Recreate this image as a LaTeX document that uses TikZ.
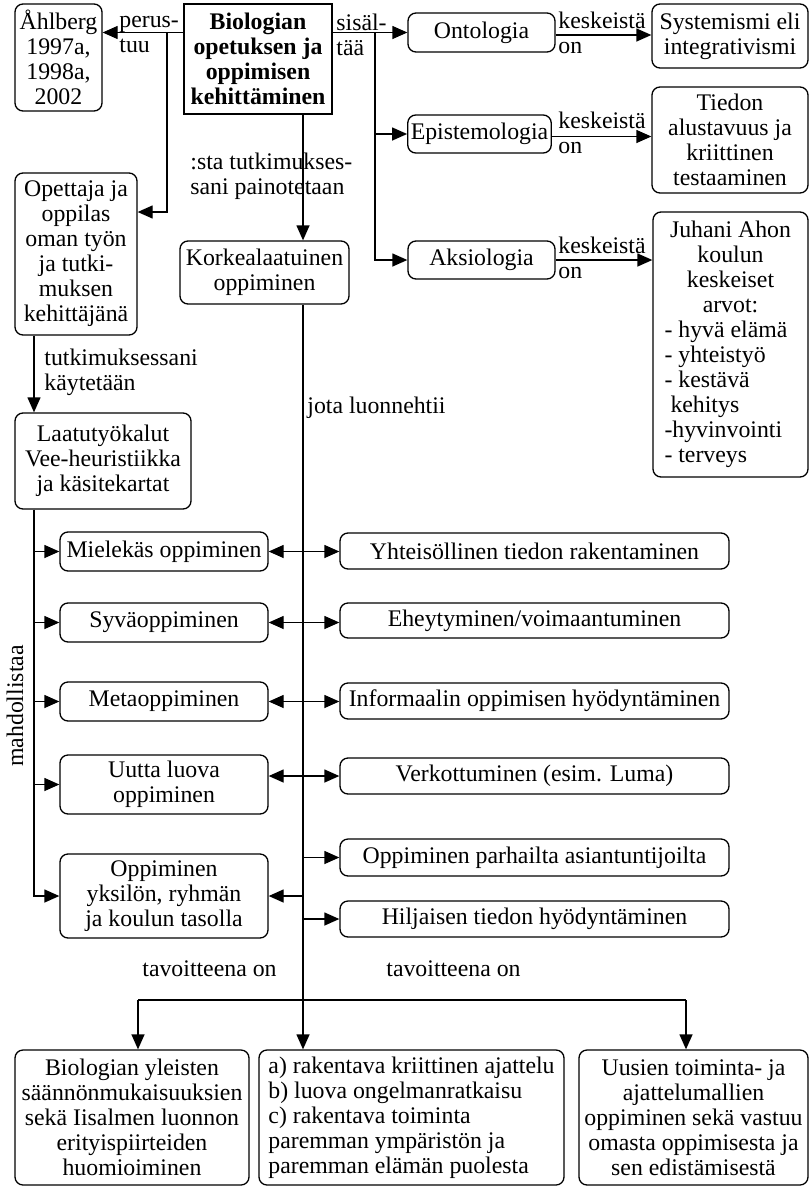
\documentclass[tikz,border=0pt]{standalone}
\usepackage{fontspec}
\setmainfont{Liberation Serif}
\usetikzlibrary{arrows.meta}
\begin{document}
\begin{tikzpicture}[x=0.5pt,y=-0.5pt,
  every node/.style={font=\fontsize{11.9pt}{12.5pt}\selectfont},
  sz/.style 2 args={minimum width=#1*0.5pt, minimum height=#2*0.5pt},
  rbox/.style={draw, rounded corners=4pt, align=center, inner sep=1.5pt, line width=0.65pt},
  sbox/.style={draw, align=center, inner sep=1.5pt, line width=0.65pt},
  lbl/.style={align=left, inner sep=0pt},
  link/.style={line width=0.65pt},
  arr/.style={link, -{Triangle[length=7.5pt,width=6.5pt]}},
  darr/.style={link, {Triangle[length=7.5pt,width=6.5pt]}-{Triangle[length=7.5pt,width=6.5pt]}},
]
\useasboundingbox (0,0) rectangle (809,1189);

% ---- top row ----
\node[rbox, sz={87}{107}] (ahl) at (58.5,57.5) {Åhlberg\\1997a,\\1998a,\\2002};
\node[sbox, sz={148}{110}, font=\fontsize{11.9pt}{12.5pt}\selectfont\bfseries] (main) at (258,59)
  {Biologian\\opetuksen ja\\oppimisen\\kehittäminen};
\node[rbox, sz={147}{39}] (onto) at (481.5,32.5) {Ontologia};
\node[rbox, sz={156}{64}] (syst) at (730,36) {Systemismi eli\\integrativismi};
\node[rbox, sz={141}{38}] (epis) at (479.5,134) {Epistemologia};
\node[rbox, sz={156}{106}] (tied) at (730,140) {Tiedon\\alustavuus ja\\kriittinen\\testaaminen};
\node[rbox, sz={147}{38}] (aksi) at (481.5,260) {Aksiologia};
\node[rbox, sz={155}{265}] (juha) at (730.5,344.5)
  {Juhani Ahon\\koulun\\keskeiset\\arvot:\\
   \makebox[66pt][l]{- hyvä elämä}\\
   \makebox[66pt][l]{- yhteistyö}\\
   \makebox[66pt][l]{- kestävä}\\
   \makebox[66pt][l]{\hspace{3pt}kehitys}\\
   \makebox[66pt][l]{-hyvinvointi}\\
   \makebox[66pt][l]{- terveys}};

% ---- left column and central box ----
\node[rbox, sz={122}{162}] (opet) at (76,254) {Opettaja ja\\oppilas\\oman työn\\ja tutki-\\muksen\\kehittäjänä};
\node[rbox, sz={169}{63}] (kork) at (264.5,272.5) {Korkealaatuinen\\oppiminen};
\node[rbox, sz={176}{96}] (laat) at (103,461) {Laatutyökalut\\Vee-heuristiikka\\ja käsitekartat};

% ---- learning forms (left) ----
\node[rbox, sz={208}{39}] (miel) at (164,551.5) {Mielekäs oppiminen};
\node[rbox, sz={208}{39}] (syva) at (164,622.5) {Syväoppiminen};
\node[rbox, sz={208}{39}] (meta) at (164,701.5) {Metaoppiminen};
\node[rbox, sz={208}{59}] (uutt) at (164,784.5) {Uutta luova\\oppiminen};
\node[rbox, sz={208}{84}] (oppy) at (164,896) {Oppiminen\\yksilön, ryhmän\\ja koulun tasolla};

% ---- learning forms (right) ----
\node[rbox, sz={389}{36}] (yhte) at (534.5,551) {Yhteisöllinen tiedon rakentaminen};
\node[rbox, sz={389}{35}] (ehey) at (534.5,620.5) {Eheytyminen/voimaantuminen};
\node[rbox, sz={389}{36}] (info) at (534.5,701) {Informaalin oppimisen hyödyntäminen};
\node[rbox, sz={389}{36}] (verk) at (534.5,776) {Verkottuminen (esim. Luma)};
\node[rbox, sz={389}{37}] (parh) at (534.5,857.5) {Oppiminen parhailta asiantuntijoilta};
\node[rbox, sz={389}{36}] (hilj) at (534.5,919) {Hiljaisen tiedon hyödyntäminen};

% ---- goals ----
\node[rbox, sz={234}{135}] (biol) at (132,1117.5) {Biologian yleisten\\säännönmukaisuuksien\\sekä Iisalmen luonnon\\erityispiirteiden\\huomioiminen};
\node[rbox, sz={305}{135}, align=left] (rake) at (411.5,1117.5) {a) rakentava kriittinen ajattelu\\b) luova ongelmanratkaisu\\c) rakentava toiminta\\paremman ympäristön ja\\paremman elämän puolesta};
\node[rbox, sz={229}{135}] (uusi) at (693.5,1117.5) {Uusien toiminta- ja\\ajattelumallien\\oppiminen sekä vastuu\\omasta oppimisesta ja\\sen edistämisestä};

% ---- connector labels ----
\node[lbl, anchor=west] at (119,35) {perus-\\tuu};
\node[lbl, anchor=west] at (336,35) {sisäl-\\tää};
\node[lbl, anchor=west] at (558,32.5) {keskeistä\\on};
\node[lbl, anchor=west] at (558,132.5) {keskeistä\\on};
\node[lbl, anchor=west] at (558,257.5) {keskeistä\\on};
\node[lbl, anchor=west] at (190,176) {:sta tutkimukses-\\sani painotetaan};
\node[lbl, anchor=west] at (44,372) {tutkimuksessani\\käytetään};
\node[lbl, anchor=west] at (307,408) {jota luonnehtii};
\node[lbl, rotate=90] at (15,706) {mahdollistaa};
\node[lbl, anchor=west] at (142,969) {tavoitteena on};
\node[lbl, anchor=west] at (386,969) {tavoitteena on};

% ---- junctions ----
\coordinate (jL) at (167,33);
\coordinate (jLo) at (167,212);
\coordinate (jR) at (375,33);
\coordinate (sp) at (303,0);
\coordinate (rail) at (34,0);
\coordinate (bl) at (138,1000);
\coordinate (br) at (686,1000);
\coordinate (k1) at ([yshift=-1.25pt]onto.east);
\coordinate (k2) at ([yshift=-1.25pt]epis.east);
\coordinate (k3) at (aksi.east);

% ---- connectors: top ----
\draw[arr] (main.west |- onto.west) -- (ahl.east |- onto.west);
\draw[arr] (jL) -- (jLo) -- (opet.east |- jLo);
\draw[arr] (main.east |- onto.west) -- (onto.west);
\draw[arr] (jR) |- (aksi.west);
\draw[arr] (jR |- epis.west) -- (epis.west);
\draw[arr] (k1) -- (k1 -| syst.west);
\draw[arr] (k2) -- (k2 -| tied.west);
\draw[arr] (k3) -- (k3 -| juha.west);

% ---- connectors: central spine ----
\draw[arr] (main.south -| sp) -- (kork.north -| sp);
\draw[arr] (kork.south -| sp) -- (rake.north -| sp);
\draw[arr] (sp |- parh.west) -- (parh.west);
\draw[arr] (sp |- hilj.west) -- (hilj.west);
\draw[arr] (sp |- oppy.east) -- (oppy.east);

% ---- connectors: left rail ----
\draw[arr] (opet.south -| rail) -- (laat.north -| rail);
\draw[arr] (laat.south -| rail) |- (oppy.west);
\foreach \n in {miel,syva,meta,uutt}
  \draw[arr] (\n.west -| rail) -- (\n.west);

% ---- two-way links ----
\draw[darr] (miel.east) -- (yhte.west |- miel.east);
\draw[darr] (syva.east) -- (ehey.west |- syva.east);
\draw[darr] (meta.east) -- (info.west |- meta.east);
\draw[darr] (uutt.east |- verk.west) -- (verk.west);

% ---- connectors: goals ----
\draw[link] (bl) -- (br);
\draw[arr] (bl) -- (bl |- biol.north);
\draw[arr] (br) -- (br |- uusi.north);
\end{tikzpicture}
\end{document}
